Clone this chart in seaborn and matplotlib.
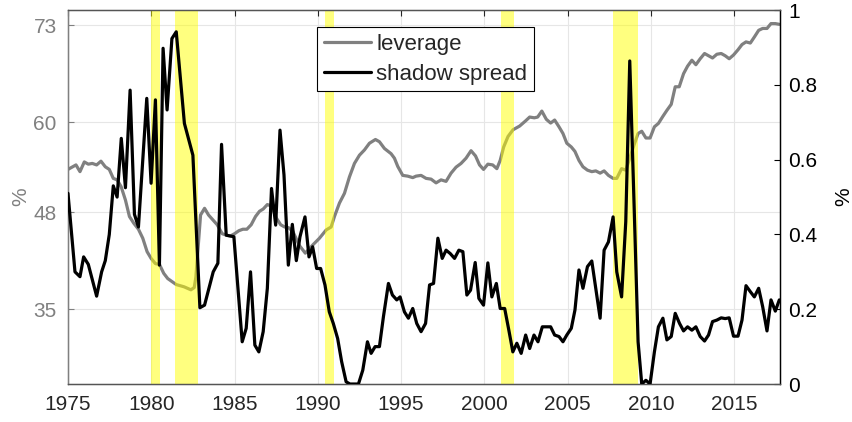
"""
Leverage vs shadow spread with recession shading (two y axes).
"""

import matplotlib
matplotlib.use("Agg")
import matplotlib.pyplot as plt
import pandas as pd
import seaborn as sns

# ----------------------------
# Data
# ----------------------------
lev_year = [
    1975.0, 1975.48, 1975.72, 1975.98, 1976.22, 1976.46, 1976.72, 1976.98, 1977.24, 1977.48,
    1977.72, 1977.95, 1978.19, 1978.45, 1978.69, 1978.95, 1979.23, 1979.49, 1979.75, 1979.99,
    1980.25, 1980.49, 1980.75, 1980.99, 1981.25, 1981.5, 1981.97, 1982.38, 1982.58, 1982.68,
    1982.96, 1983.2, 1983.44, 1983.72, 1983.96, 1984.26, 1984.52, 1984.76, 1985.0, 1985.26,
    1985.5, 1985.74, 1986.0, 1986.26, 1986.5, 1986.72, 1986.97, 1987.22, 1987.51, 1987.77,
    1988.01, 1988.25, 1988.5, 1988.9, 1989.25, 1989.7, 1990.1, 1990.5, 1990.8, 1991.0,
    1991.3, 1991.6, 1991.9, 1992.2, 1992.5, 1992.8, 1993.1, 1993.46, 1993.7, 1994.0,
    1994.4, 1994.6, 1994.8, 1995.1, 1995.4, 1995.7, 1995.9, 1996.2, 1996.5, 1996.8,
    1997.1, 1997.4, 1997.7, 1998.0, 1998.3, 1998.6, 1998.9, 1999.2, 1999.47, 1999.71,
    1999.95, 2000.21, 2000.5, 2000.75, 2000.95, 2001.16, 2001.42, 2001.72, 2002.12, 2002.48,
    2002.72, 2003.0, 2003.2, 2003.45, 2003.72, 2003.98, 2004.22, 2004.48, 2004.72, 2004.95,
    2005.22, 2005.44, 2005.68, 2005.92, 2006.19, 2006.45, 2006.69, 2006.95, 2007.19, 2007.45,
    2007.73, 2007.95, 2008.24, 2008.49, 2008.73, 2008.99, 2009.23, 2009.45, 2009.7, 2009.95,
    2010.21, 2010.45, 2010.72, 2010.96, 2011.22, 2011.46, 2011.7, 2011.96, 2012.2, 2012.46,
    2012.7, 2012.96, 2013.22, 2013.46, 2013.7, 2013.96, 2014.22, 2014.46, 2014.7, 2014.96,
    2015.23, 2015.47, 2015.71, 2015.97, 2016.21, 2016.47, 2016.71, 2016.97, 2017.21, 2017.47,
    2017.71,
]
lev_value = [
    53.7, 54.3, 53.4, 54.7, 54.4, 54.5, 54.3, 54.8, 54.05, 53.7,
    52.5, 52.3, 51.4, 49.6, 47.4, 46.5, 45.7, 44.5, 42.7, 41.8,
    41.1, 41.0, 39.8, 39.1, 38.7, 38.3, 38.0, 37.6, 37.9, 39.3,
    47.6, 48.5, 47.6, 46.9, 46.3, 45.1, 44.9, 44.8, 45.1, 45.5,
    45.7, 45.7, 46.3, 47.4, 48.1, 48.4, 49.0, 48.8, 47.2, 46.3,
    46.0, 45.9, 45.4, 43.5, 42.5, 43.6, 44.5, 45.6, 46.0, 47.4,
    49.2, 50.5, 52.7, 54.5, 55.6, 56.3, 57.2, 57.7, 57.4, 56.5,
    55.8, 55.2, 54.1, 52.9, 52.8, 52.6, 52.8, 52.9, 52.5, 52.4,
    51.9, 52.3, 52.1, 53.2, 54.0, 54.5, 55.2, 56.2, 55.5, 54.3,
    53.7, 54.4, 54.3, 53.8, 54.9, 56.7, 58.1, 59.0, 59.5, 60.2,
    60.7, 60.6, 60.7, 61.5, 60.4, 59.9, 60.3, 59.4, 58.5, 57.2,
    56.7, 56.1, 54.9, 54.05, 53.6, 53.4, 53.5, 53.2, 53.5, 52.9,
    52.5, 52.5, 53.8, 53.6, 55.2, 57.0, 58.5, 58.8, 57.9, 57.9,
    59.4, 59.85, 60.8, 61.6, 62.4, 64.75, 64.75, 66.5, 67.5, 68.3,
    67.7, 68.5, 69.2, 68.9, 68.6, 69.1, 69.2, 68.9, 68.5, 69.0,
    69.7, 70.4, 70.75, 70.6, 71.4, 72.3, 72.55, 72.55, 73.2, 73.2,
    73.1,
]

spread_year = [
    1975.0, 1975.42, 1975.72, 1975.94, 1976.22, 1976.72, 1977.02, 1977.24, 1977.48, 1977.72,
    1977.95, 1978.2, 1978.45, 1978.73, 1978.99, 1979.23, 1979.73, 1979.99, 1980.25, 1980.49,
    1980.71, 1980.95, 1981.24, 1981.5, 1981.99, 1982.5, 1982.92, 1983.2, 1983.72, 1984.0,
    1984.22, 1984.5, 1984.96, 1985.46, 1985.7, 1985.96, 1986.22, 1986.46, 1986.72, 1986.97,
    1987.22, 1987.47, 1987.73, 1987.97, 1988.23, 1988.47, 1988.71, 1988.93, 1989.23, 1989.47,
    1989.69, 1989.93, 1990.17, 1990.43, 1990.69, 1990.93, 1991.19, 1991.43, 1991.7, 1991.93,
    1992.2, 1992.44, 1992.7, 1992.98, 1993.2, 1993.44, 1993.7, 1993.94, 1994.24, 1994.48,
    1994.74, 1994.94, 1995.2, 1995.44, 1995.7, 1995.94, 1996.2, 1996.47, 1996.71, 1996.95,
    1997.21, 1997.47, 1997.7, 1997.95, 1998.21, 1998.47, 1998.71, 1998.95, 1999.17, 1999.45,
    1999.67, 1999.95, 2000.21, 2000.45, 2000.72, 2000.95, 2001.22, 2001.47, 2001.71, 2001.95,
    2002.21, 2002.48, 2002.72, 2002.98, 2003.22, 2003.48, 2003.72, 2003.98, 2004.22, 2004.48,
    2004.72, 2004.95, 2005.22, 2005.44, 2005.68, 2005.92, 2006.19, 2006.45, 2006.69, 2006.95,
    2007.19, 2007.45, 2007.73, 2007.95, 2008.24, 2008.49, 2008.73, 2008.99, 2009.23, 2009.45,
    2009.7, 2009.95, 2010.21, 2010.45, 2010.72, 2010.96, 2011.22, 2011.46, 2011.72, 2011.96,
    2012.2, 2012.46, 2012.7, 2012.96, 2013.22, 2013.46, 2013.7, 2013.96, 2014.22, 2014.46,
    2014.7, 2014.96, 2015.23, 2015.47, 2015.71, 2015.97, 2016.21, 2016.47, 2016.71, 2016.97,
    2017.21, 2017.47, 2017.71,
]
spread_value = [
    0.51, 0.30, 0.287, 0.34, 0.32, 0.235, 0.30, 0.33, 0.40, 0.53,
    0.50, 0.657, 0.525, 0.786, 0.454, 0.42, 0.764, 0.537, 0.76, 0.318,
    0.898, 0.733, 0.924, 0.942, 0.697, 0.612, 0.204, 0.211, 0.30, 0.323,
    0.641, 0.398, 0.394, 0.113, 0.149, 0.30, 0.104, 0.086, 0.14, 0.256,
    0.523, 0.425, 0.679, 0.559, 0.318, 0.427, 0.33, 0.394, 0.447, 0.34,
    0.367, 0.309, 0.309, 0.265, 0.193, 0.162, 0.122, 0.06, 0.006, 0.0,
    0.0, 0.0, 0.037, 0.113, 0.082, 0.10, 0.10, 0.18, 0.269, 0.238,
    0.225, 0.233, 0.193, 0.176, 0.202, 0.162, 0.14, 0.162, 0.265, 0.269,
    0.39, 0.336, 0.358, 0.349, 0.336, 0.358, 0.354, 0.238, 0.251, 0.325,
    0.229, 0.211, 0.324, 0.233, 0.269, 0.202, 0.202, 0.144, 0.086, 0.109,
    0.082, 0.131, 0.095, 0.131, 0.113, 0.153, 0.153, 0.153, 0.131, 0.127,
    0.113, 0.131, 0.149, 0.198, 0.305, 0.256, 0.314, 0.329, 0.256, 0.176,
    0.358, 0.38, 0.447, 0.30, 0.233, 0.434, 0.864, 0.479, 0.113, 0.0,
    0.01, 0.0, 0.086, 0.153, 0.176, 0.118, 0.127, 0.189, 0.162, 0.142,
    0.153, 0.144, 0.153, 0.127, 0.115, 0.131, 0.167, 0.171, 0.177, 0.175,
    0.177, 0.128, 0.128, 0.171, 0.263, 0.247, 0.233, 0.256, 0.207, 0.142,
    0.225, 0.195, 0.225,
]

# recession periods (start, end)
rec_start = [1980.0, 1981.45, 1990.45, 2001.0, 2007.75]
rec_end = [1980.55, 1982.8, 1991.0, 2001.75, 2009.25]

x_ticks = [1975, 1980, 1985, 1990, 1995, 2000, 2005, 2010, 2015]
left_ticks = [35, 48, 60, 73]
right_ticks = [0, 0.2, 0.4, 0.6, 0.8, 1.0]
right_labels = ["0", "0.2", "0.4", "0.6", "0.8", "1"]

GRAY = "#808080"
DARK = "#262626"
FS = 15

# ----------------------------
# Style
# ----------------------------
sns.set_style("white")
plt.rcParams["font.family"] = ["Liberation Sans", "DejaVu Sans"]

lev_df = pd.DataFrame({"year": lev_year, "leverage": lev_value})
spr_df = pd.DataFrame({"year": spread_year, "spread": spread_value})

fig = plt.figure(figsize=(8.53, 4.22), dpi=100)
ax = fig.add_axes([0.0797, 0.090, 0.8347, 0.886])
ax2 = ax.twinx()

# left axis: leverage
sns.lineplot(data=lev_df, x="year", y="leverage", ax=ax, color=GRAY, linewidth=2.3,
             label="leverage", legend=False)

# right axis: recession bars then spread
for s, e in zip(rec_start, rec_end):
    ax2.axvspan(s, e, color="yellow", alpha=0.5, lw=0, zorder=1)
sns.lineplot(data=spr_df, x="year", y="spread", ax=ax2, color="black", linewidth=2.3,
             label="shadow spread", legend=False, zorder=3)

ax.set_xlim(1975, 2017.75)
ax.set_ylim(25, 75)
ax2.set_ylim(0, 1)
ax.set_xticks(x_ticks)
ax.set_xticklabels([str(t) for t in x_ticks])
ax.set_yticks(left_ticks)
ax.set_yticklabels([str(t) for t in left_ticks])
ax2.set_yticks(right_ticks)
ax2.set_yticklabels(right_labels)

ax.grid(True, color="#e6e6e6", linewidth=0.8)
ax.set_xlabel("")
ax.set_ylabel("%", color=GRAY, fontsize=FS, labelpad=2)
ax2.set_ylabel("%", color="black", fontsize=FS, labelpad=12)

ax.tick_params(axis="x", direction="in", length=4, colors=DARK, labelsize=FS, top=True, pad=8)
ax.tick_params(axis="y", direction="in", length=4, colors=GRAY, labelsize=FS, pad=8)
ax2.tick_params(axis="y", direction="in", length=4, colors="black", labelsize=FS, pad=6)

for sp in ["top", "bottom"]:
    ax2.spines[sp].set_color("#555555")
ax2.spines["left"].set_color(GRAY)
ax2.spines["right"].set_color("black")
for sp in ax2.spines.values():
    sp.set_linewidth(1.0)

h1, l1 = ax.get_legend_handles_labels()
h2, l2 = ax2.get_legend_handles_labels()
leg = ax2.legend(h1 + h2, l1 + l2, loc="upper left", bbox_to_anchor=(0.35, 0.955),
                 borderaxespad=0, fontsize=16, frameon=True, fancybox=False,
                 framealpha=1, edgecolor="black", handlelength=2.1,
                 handletextpad=0.25, labelspacing=0.4, borderpad=0.3)
leg.get_frame().set_linewidth(0.8)

fig.savefig("out.png", dpi=100)
